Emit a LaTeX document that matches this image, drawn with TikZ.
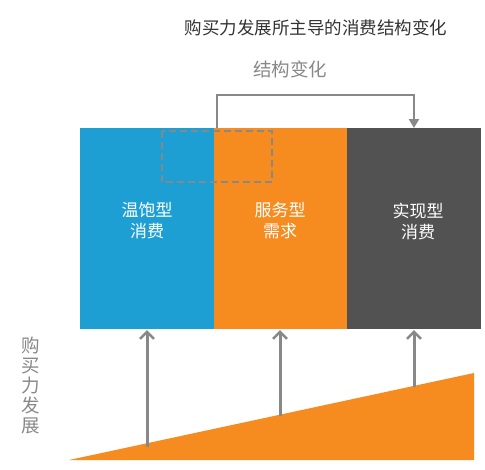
\documentclass[tikz,border=0pt]{standalone}
\usepackage{fontspec}
\setmainfont{Noto Sans CJK SC}
\usetikzlibrary{arrows.meta}
\definecolor{cblue}{HTML}{1E9FD3}
\definecolor{corange}{HTML}{F68B1F}
\definecolor{cdark}{HTML}{525252}
\definecolor{cgray}{HTML}{888888}
\definecolor{ctitle}{HTML}{333333}
\begin{document}
\begin{tikzpicture}[x=1pt,y=-1pt,
  boxtxt/.style={text=white,font=\fontsize{17}{21}\selectfont,align=center,inner sep=0pt},
  upar/.style={draw=cgray,line width=3pt,-{Straight Barb[length=7pt,width=14pt,line width=2.5pt]}},
  brk/.style={draw=cgray,line width=2.5pt}]
\useasboundingbox (0,0) rectangle (485,469);
% boxes
\fill[cblue] (80,128) rectangle (214,329);
\fill[corange] (214,128) rectangle (347,329);
\fill[cdark] (347,128) rectangle (481,329);
\node[boxtxt] (b1) at (147,221) {温饱型\\消费};
\node[boxtxt] (b2) at (280,221) {服务型\\需求};
\node[boxtxt] (b3) at (418,221) {实现型\\消费};
% dashed rect
\draw[cgray,line width=2.5pt,dash pattern=on 7pt off 4pt] (162,131) rectangle (272,182);
% title
\node[text=ctitle,font=\fontsize{17.5}{19}\selectfont,inner sep=0pt] (title) at (316,28) {购买力发展所主导的消费结构变化};
\node[text=cgray,font=\fontsize{18.5}{20}\selectfont,inner sep=0pt] (lab) at (290,69) {结构变化};
% bracket
\coordinate (bs) at (217,128);
\coordinate (be) at (414,128);
\draw[brk] (bs) -- (217,95) -- (414,95);
\draw[brk,-{Triangle[length=9pt,width=10pt]}] (414,94) -- (be);
% triangle
\fill[corange] (69,460) -- (474,373) -- (474,460) -- cycle;
% vertical label
\node[text=cgray,font=\fontsize{18.5}{20}\selectfont,align=center,inner sep=0pt] (vl) at (31,385) {购\\买\\力\\发\\展};
% arrows
\coordinate (a1) at (147,447);
\coordinate (a2) at (280,416);
\coordinate (a3) at (414,387);
\coordinate (t1) at (147,330);
\coordinate (t2) at (280,330);
\coordinate (t3) at (414,330);
\draw[upar] (a1) -- (t1);
\draw[upar] (a2) -- (t2);
\draw[upar] (a3) -- (t3);
\end{tikzpicture}
\end{document}
